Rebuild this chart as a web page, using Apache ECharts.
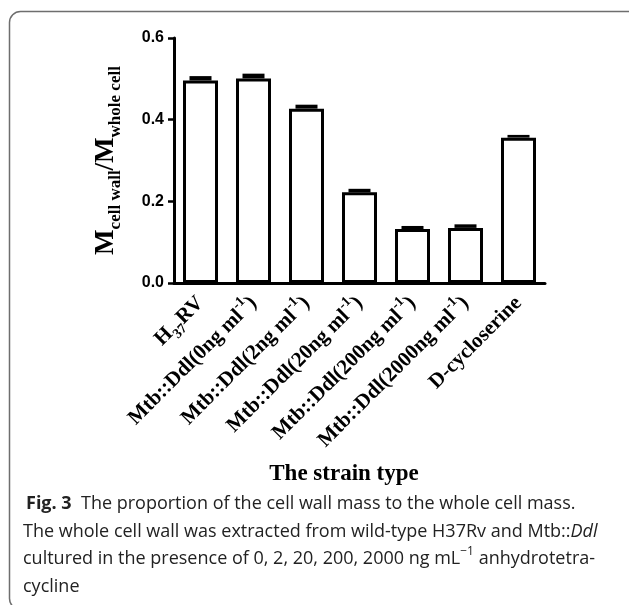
<!DOCTYPE html>
<html>
<head>
<meta charset="utf-8">
<script src="https://cdn.jsdelivr.net/npm/echarts@6/dist/echarts.min.js"></script>
<style>
html,body{margin:0;padding:0;background:#fff;}
#chart{width:629px;height:605px;}
</style>
</head>
<body>
<div id="chart"></div>
<script>
// ---- data ----
var categories = ['H37RV', 'Mtb::Ddl(0ng ml-1)', 'Mtb::Ddl(2ng ml-1)', 'Mtb::Ddl(20ng ml-1)',
                  'Mtb::Ddl(200ng ml-1)', 'Mtb::Ddl(2000ng ml-1)', 'D-cycloserine'];
var values = [0.496, 0.501, 0.427, 0.222, 0.132, 0.135, 0.356];
var errors = [0.007, 0.008, 0.006, 0.005, 0.004, 0.005, 0.003];
var yTicks = [0.0, 0.2, 0.4, 0.6];
var xAxisTitle = 'The strain type';
var captionLines = [
  '{b|Fig. 3}  The proportion of the cell wall mass to the whole cell mass.',
  'The whole cell wall was extracted from wild-type H37Rv and Mtb::{i|Ddl}',
  'cultured in the presence of 0, 2, 20, 200, 2000 ng mL{sup|\u22121} anhydrotetra-',
  'cycline'
];

var chart = echarts.init(document.getElementById('chart'));

function fmtCat(s) {
  if (s === 'H37RV') return '{b|H}{sub|37}{b|RV}';
  var m = s.match(/^(.*)ml-1\)$/);
  if (m) return '{b|' + m[1] + 'ml}{sup|-1}{b|)}';
  return '{b|' + s + '}';
}

var serif = 'Liberation Serif, Times New Roman, serif';
var sans = 'Liberation Sans, Arial, sans-serif';

var errData = values.map(function (v, i) { return [i, v, v + errors[i]]; });

var graphics = [
  {
    type: 'rect', z: 0, silent: true,
    shape: { x: 9.5, y: 11.5, width: 660, height: 598, r: 11 },
    style: { fill: 'none', stroke: '#6e6e6e', lineWidth: 1.5 }
  },
  {
    type: 'text', z: 10, x: 344, y: 474,
    style: { text: xAxisTitle, font: 'bold 23px ' + serif, fill: '#000', align: 'center', verticalAlign: 'middle' }
  }
];
var capY = [504, 531.5, 559, 586.5];
captionLines.forEach(function (t, i) {
  graphics.push({
    type: 'text', z: 10,
    x: i === 0 ? 26 : 23, y: capY[i],
    style: {
      text: t,
      fill: '#222',
      font: '18px Open Sans, Noto Sans, sans-serif',
      verticalAlign: 'middle',
      rich: {
        b: { fontWeight: 'bold', fontSize: 18, fontFamily: 'Open Sans', fill: '#222' },
        i: { fontStyle: 'italic', fontSize: 18, fontFamily: 'Open Sans', fill: '#222' },
        sup: { fontSize: 12, fontFamily: 'Open Sans', fill: '#222', verticalAlign: 'top', lineHeight: 26 }
      }
    }
  });
});

var option = {
  animation: false,
  backgroundColor: '#fff',
  grid: { left: 174, right: 84, top: 38, bottom: 322, containLabel: false },
  xAxis: {
    type: 'category',
    data: categories,
    axisLine: { lineStyle: { color: '#000', width: 3 } },
    axisTick: { alignWithLabel: true, length: 8, lineStyle: { color: '#000', width: 2.5 } },
    axisLabel: {
      rotate: 45, margin: 17, interval: 0,
      formatter: fmtCat,
      rich: {
        b: { fontFamily: serif, fontWeight: 'bold', fontSize: 21, color: '#000', lineHeight: 22 },
        sub: { fontFamily: serif, fontWeight: 'bold', fontSize: 14, color: '#000', verticalAlign: 'bottom', lineHeight: 30 },
        sup: { fontFamily: serif, fontWeight: 'bold', fontSize: 14, color: '#000', verticalAlign: 'top', lineHeight: 30 }
      }
    },
    splitLine: { show: false }
  },
  yAxis: {
    type: 'value',
    min: 0, max: 0.6, interval: 0.2,
    axisLine: { show: true, lineStyle: { color: '#000', width: 3 } },
    axisTick: { show: true, length: 6, lineStyle: { color: '#000', width: 2.5 } },
    axisLabel: {
      margin: 10,
      fontFamily: sans, fontWeight: 'bold', fontSize: 16, color: '#000',
      formatter: function (v) { return v.toFixed(1); }
    },
    splitLine: { show: false },
    name: '{m|M}{s|cell wall}{m|/M}{s|whole cell}',
    nameLocation: 'middle',
    nameGap: 50,
    nameRotate: 90,
    nameTextStyle: {
      rich: {
        m: { fontFamily: serif, fontWeight: 'bold', fontSize: 27, color: '#000', lineHeight: 30 },
        s: { fontFamily: serif, fontWeight: 'bold', fontSize: 17, color: '#000', verticalAlign: 'bottom', lineHeight: 36 }
      }
    }
  },
  series: [
    {
      type: 'bar',
      data: values,
      barWidth: 35,
      itemStyle: { color: '#fff', borderColor: '#000', borderWidth: 3 },
      z: 2
    },
    {
      type: 'custom',
      data: errData,
      z: 3,
      renderItem: function (params, api) {
        var x = api.coord([api.value(0), api.value(1)])[0];
        var yLow = api.coord([api.value(0), api.value(1)])[1];
        var yHigh = api.coord([api.value(0), api.value(2)])[1];
        var hw = 11;
        return {
          type: 'rect',
          shape: { x: x - hw, y: yHigh - 1.5, width: 2 * hw, height: Math.max(yLow - yHigh, 0) + 1.5 },
          style: { fill: '#000' }
        };
      }
    }
  ],
  graphic: graphics
};
chart.setOption(option);
</script>
</body>
</html>
